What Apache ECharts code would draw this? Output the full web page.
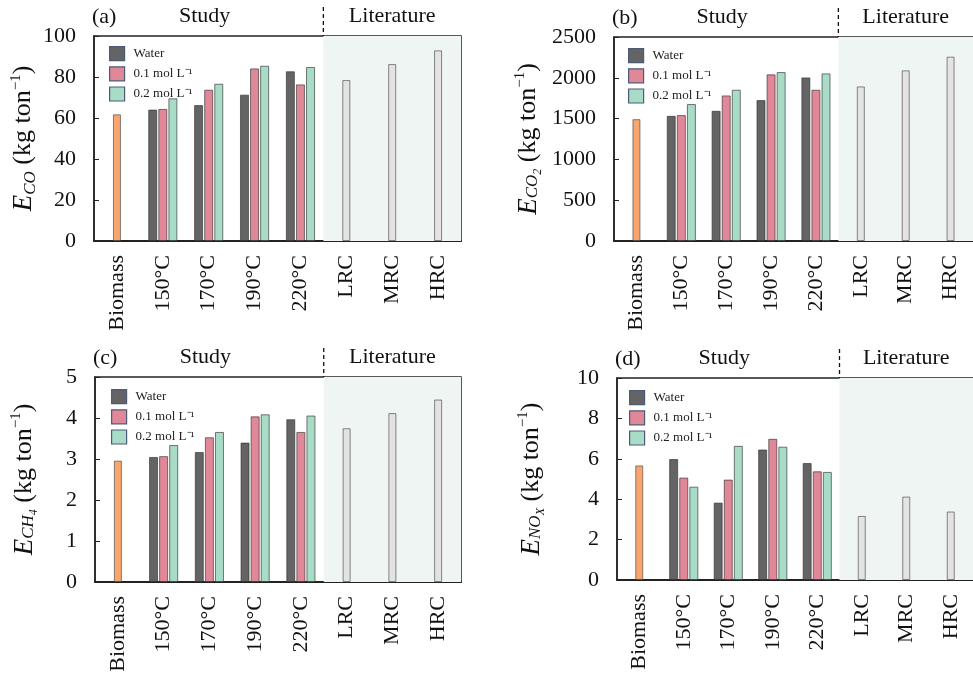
<!DOCTYPE html>
<html>
<head>
<meta charset="utf-8">
<script src="https://cdn.jsdelivr.net/npm/echarts@6/dist/echarts.min.js"></script>
<style>
  html, body { margin: 0; padding: 0; background: #fff; }
  #chart { width: 973px; height: 676px; }
</style>
</head>
<body>
<div id="chart"></div>
<script>
// categories and series names
const categories = ['Biomass', '150°C', '170°C', '190°C', '220°C', 'LRC', 'MRC', 'HRC'];
const seriesNames = ['Water', '0.1 mol L⁻¹', '0.2 mol L⁻¹'];

// (a) CO
const coBiomass = 61.8;
const coWater = [64.1, 66.3, 71.4, 82.8];
const coMol01 = [64.4, 73.8, 84.2, 76.4];
const coMol02 = [69.6, 76.7, 85.5, 84.9];
const coLiterature = [78.5, 86.3, 93.0];

// (b) CO2
const co2Biomass = 1493;
const co2Water = [1534, 1596, 1727, 2005];
const co2Mol01 = [1543, 1784, 2042, 1854];
const co2Mol02 = [1678, 1854, 2070, 2054];
const co2Literature = [1894, 2091, 2259];

// (c) CH4
const ch4Biomass = 2.96;
const ch4Water = [3.05, 3.17, 3.40, 3.97];
const ch4Mol01 = [3.07, 3.53, 4.04, 3.66];
const ch4Mol02 = [3.34, 3.66, 4.09, 4.06];
const ch4Literature = [3.75, 4.12, 4.45];

// (d) NOx
const noxBiomass = 5.67;
const noxWater = [5.99, 3.83, 6.46, 5.79];
const noxMol01 = [5.07, 4.97, 6.99, 5.38];
const noxMol02 = [4.62, 6.64, 6.60, 5.35];
const noxLiterature = [3.17, 4.13, 3.39];

// y axis ranges / tick steps
const yMax = [100, 2500, 5, 10];
const yStep = [20, 500, 1, 2];

const FONT = "'Liberation Serif', 'Times New Roman', serif";
const colors = ['#646464', '#e08898', '#a8dcc6'];
const biomassColor = '#f8a66e';
const litColor = '#e3e3e3';

const panels = [
  {tag: '(a)', biomass: coBiomass, groups: [coWater, coMol01, coMol02], lit: coLiterature,
   name: '{e|E}{s|CO}{t| (kg ton}{p|−1}{t|)}',
   grid: {left: 94, top: 36, width: 367, height: 205}, nameGap: 52, legend: {left: 104, top: 41}},
  {tag: '(b)', biomass: co2Biomass, groups: [co2Water, co2Mol01, co2Mol02], lit: co2Literature,
   name: '{e|E}{s2|CO}{ss|2}{t| (kg ton}{p|−1}{t|)}',
   grid: {left: 614, top: 37, width: 367, height: 204}, nameGap: 70, legend: {left: 623, top: 43}},
  {tag: '(c)', biomass: ch4Biomass, groups: [ch4Water, ch4Mol01, ch4Mol02], lit: ch4Literature,
   name: '{e|E}{s2|CH}{ss|4}{t| (kg ton}{p|−1}{t|)}',
   grid: {left: 95, top: 377, width: 366, height: 205}, nameGap: 55, legend: {left: 106, top: 384}},
  {tag: '(d)', biomass: noxBiomass, groups: [noxWater, noxMol01, noxMol02], lit: noxLiterature,
   name: '{e|E}{s2|NO}{ss|X}{t| (kg ton}{p|−1}{t|)}',
   grid: {left: 617, top: 378, width: 367, height: 202}, nameGap: 70, legend: {left: 624, top: 385}}
];

const nameRich = {
  e: {fontFamily: FONT, fontSize: 27, fontStyle: 'italic', color: '#111', verticalAlign: 'middle', lineHeight: 31},
  s: {fontFamily: FONT, fontSize: 17, fontStyle: 'italic', color: '#111', verticalAlign: 'bottom', lineHeight: 31},
  s2: {fontFamily: FONT, fontSize: 17, fontStyle: 'italic', color: '#111', verticalAlign: 'bottom', padding: [0, 0, 3, 0]},
  ss: {fontFamily: FONT, fontSize: 12, fontStyle: 'italic', color: '#111', verticalAlign: 'bottom'},
  t: {fontFamily: FONT, fontSize: 26, color: '#111', verticalAlign: 'middle', lineHeight: 31},
  p: {fontFamily: FONT, fontSize: 15, color: '#111', verticalAlign: 'top'}
};

const grids = [], xAxes = [], yAxes = [], series = [], legends = [];

panels.forEach((p, i) => {
  grids.push(Object.assign({show: true, borderColor: '#222', borderWidth: 1.5, containLabel: false}, p.grid));
  // main category axis
  xAxes.push({
    type: 'category', gridIndex: i, data: categories,
    axisLine: {lineStyle: {color: '#222', width: 2}},
    axisTick: {show: false},
    axisLabel: {rotate: 90, margin: 14, fontFamily: FONT, fontSize: 22, color: '#111'}
  });
  // hidden category axis for the single bars (biomass + literature)
  xAxes.push({type: 'category', gridIndex: i, data: categories, show: false});
  // hidden value axis for the shaded literature band
  xAxes.push({type: 'value', gridIndex: i, min: 0, max: 8, show: false});
  yAxes.push({
    type: 'value', gridIndex: i, min: 0, max: yMax[i], interval: yStep[i],
    name: p.name, nameLocation: 'middle', nameGap: p.nameGap, nameRotate: 90,
    nameTextStyle: {rich: nameRich},
    axisLine: {show: true, lineStyle: {color: '#222', width: 1.5}},
    axisTick: {show: true, inside: true, length: 5, lineStyle: {color: '#222'}},
    splitLine: {show: false},
    axisLabel: {margin: 18, fontFamily: FONT, fontSize: 22, color: '#111', formatter: v => String(v)}
  });

  // shaded literature region
  series.push({
    type: 'line', xAxisIndex: 3 * i + 2, yAxisIndex: i, data: [], z: 0, silent: true,
    markArea: {silent: true, itemStyle: {color: '#eff5f2'}, data: [[{xAxis: 5}, {xAxis: 8}]]}
  });

  // study groups
  p.groups.forEach((vals, k) => {
    series.push({
      name: seriesNames[k], type: 'bar', xAxisIndex: 3 * i, yAxisIndex: i,
      data: [null].concat(vals, [null, null, null]),
      barWidth: 9, barGap: '12%',
      itemStyle: {color: colors[k], borderColor: 'rgba(50,50,50,0.65)', borderWidth: 1},
      z: 3
    });
  });

  // biomass + literature bars
  series.push({
    name: 'ref' + i, type: 'bar', xAxisIndex: 3 * i + 1, yAxisIndex: i,
    barWidth: 8,
    data: [{value: p.biomass, itemStyle: {color: biomassColor}}, null, null, null, null]
      .concat(p.lit.map(v => ({value: v, itemStyle: {color: litColor}}))),
    itemStyle: {borderColor: 'rgba(60,60,60,0.6)', borderWidth: 1},
    z: 3
  });

  legends.push({
    data: seriesNames, orient: 'vertical', left: p.legend.left, top: p.legend.top,
    icon: 'rect', itemWidth: 15, itemHeight: 14, itemGap: 5, selectedMode: false,
    itemStyle: {borderColor: '#4d5a78', borderWidth: 1.2},
    textStyle: {fontFamily: FONT, fontSize: 13, color: '#222', padding: [0, 0, 0, 4]}
  });
});

const chart = echarts.init(document.getElementById('chart'));
chart.setOption({
  animation: false,
  backgroundColor: '#fff',
  grid: grids, xAxis: xAxes, yAxis: yAxes, series: series, legend: legends
});

// headers above each panel, placed through the axes
const graphics = [];
panels.forEach((p, i) => {
  const xl = chart.convertToPixel({xAxisIndex: 3 * i + 2}, 0);
  const xd = chart.convertToPixel({xAxisIndex: 3 * i + 2}, 5);
  const xr = chart.convertToPixel({xAxisIndex: 3 * i + 2}, 8);
  const yt = chart.convertToPixel({yAxisIndex: i}, yMax[i]);
  const ts = {fontFamily: FONT, fontSize: 22, fill: '#111', verticalAlign: 'middle'};
  graphics.push(
    {type: 'line', shape: {x1: xd, y1: yt - 29, x2: xd, y2: yt}, style: {stroke: '#111', lineWidth: 1.3, lineDash: [4, 3]}},
    {type: 'text', x: xl - 2, y: yt - 19, style: Object.assign({text: p.tag, textAlign: 'left'}, ts)},
    {type: 'text', x: (xl + xd) / 2 - 4, y: yt - 20, style: Object.assign({text: 'Study', textAlign: 'center'}, ts)},
    {type: 'text', x: (xd + xr) / 2, y: yt - 20, style: Object.assign({text: 'Literature', textAlign: 'center'}, ts)}
  );
});
chart.setOption({graphic: graphics});
</script>
</body>
</html>
